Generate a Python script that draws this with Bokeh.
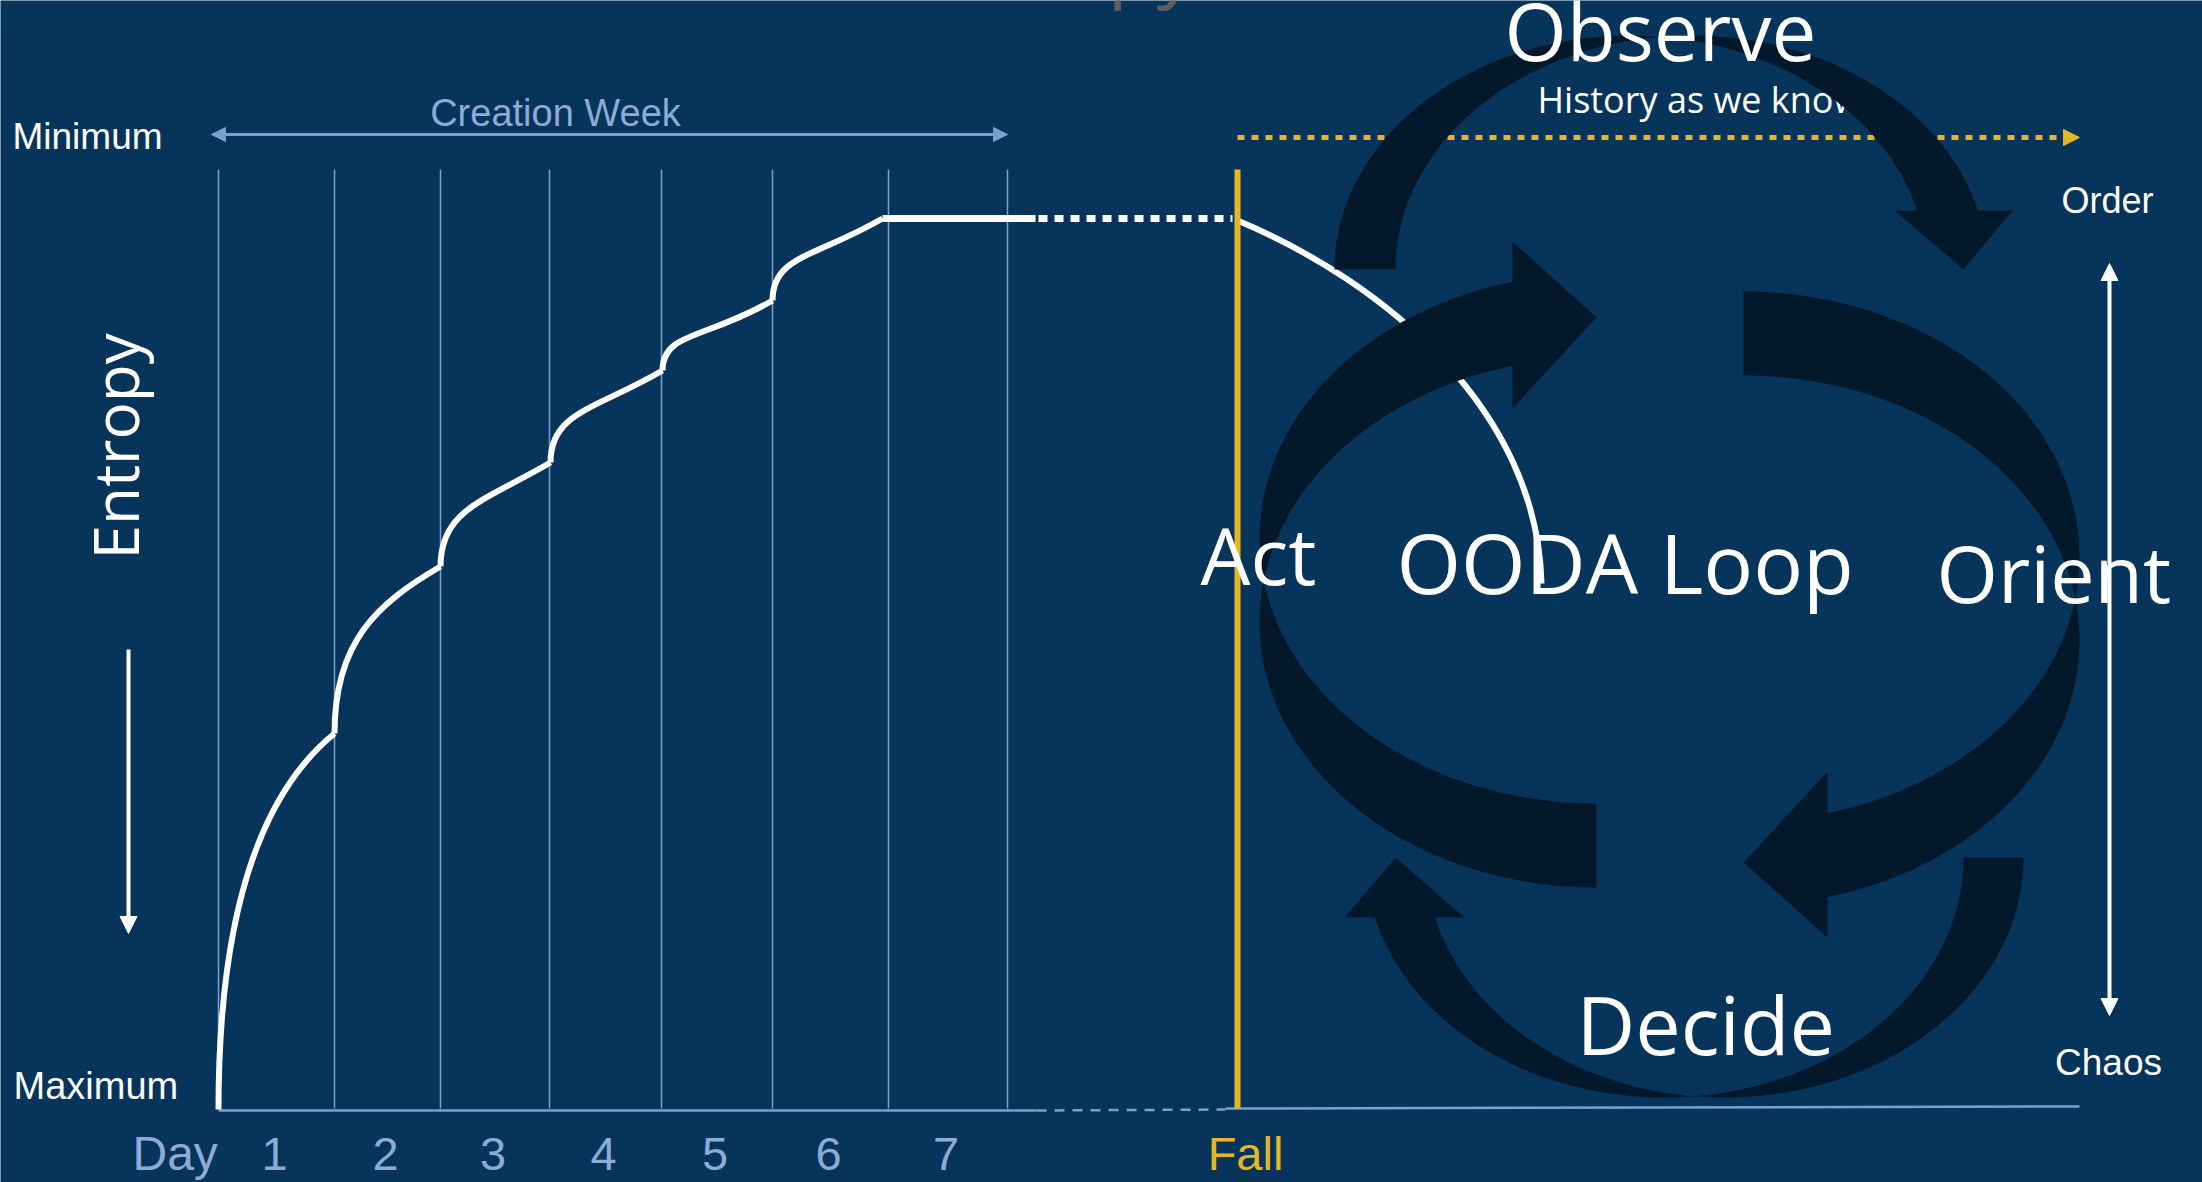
import numpy as np
from bokeh.plotting import figure
from bokeh.models import Range1d, Arrow, NormalHead
from bokeh.embed import file_html
from bokeh.resources import INLINE
from bokeh.core.properties import value

# ---------------- data ----------------
title_text = "Entropy"
axis_title = "Entropy"
entropy_ends = ["Minimum", "Maximum"]
order_ends = ["Order", "Chaos"]
week_label = "Creation Week"
day_word = "Day"
days = ["1", "2", "3", "4", "5", "6", "7"]
fall_label = "Fall"
history_label = "History as we know"
loop_title = "OODA Loop"
ooda_stages = ["Act", "Orient", "Observe", "Decide"]

# day boundaries on the time axis
day_edges = [218, 334, 440, 549, 661, 772, 888, 1007]
# entropy level reached at each day boundary (screen px, 1109 = maximum entropy)
curve_x = [218, 334, 440, 550, 662, 772, 882]
curve_y = [1109, 733, 566, 462, 370, 300, 218]
plateau_end = 1035
fall_x = 1237
# decline after the fall (bezier knots)
decline_x = [1237, 1385, 1537, 1541]
decline_y = [220, 282, 410, 583]

# OODA curved arrows (centre, radii across/along, offset, head geometry)
loop_cx = [1596, 1743, 1660.5, 1694]
loop_cy = [580, 598, 269, 857]
loop_a = [337, 336, 234, 240]
loop_b = [265, 265, 296, 299]
loop_d = [84, 84, 61, 60]
loop_uend = [-84, -84, -59, -60]
loop_hout = [-339, -339, -351.5, -350]
loop_hin = [-172, -173, -233.5, -230]
loop_tip = [-263, -264, -302.5, -299]
loop_rot = ["id", "r180", "cw", "ccw"]

# ---------------- style ----------------
NAVY = "#07345B"
DARK = "#03192B"
LB_LINE = "#7E9ED2"
LB_TEXT = "#8DAAD8"
YEL = "#E6B724"
WHITE = "#FFFFFF"
GRAY = "#5E5E5E"
ARIAL = value("Liberation Sans")
SEGOE = value("Open Sans")

W, H = 2202, 1182
p = figure(width=W, height=H, x_range=Range1d(0, W), y_range=Range1d(H, 0),
           output_backend="svg", toolbar_location=None, min_border=0,
           x_axis_location=None, y_axis_location=None,
           background_fill_color=NAVY, border_fill_color=NAVY, outline_line_color=None)
p.grid.visible = False

# grid of days
p.segment(x0=day_edges, y0=[169] * len(day_edges), x1=day_edges, y1=[1108] * len(day_edges),
          line_color=LB_LINE, line_width=1.5)
# baseline
p.line([day_edges[0], 1036], [1110, 1110], line_color=LB_LINE, line_width=2.5)
p.line([1036, 1225], [1110, 1109], line_color=LB_LINE, line_width=2.5, line_dash="10 8")
p.line([1225, 2079], [1108, 1106], line_color=LB_LINE, line_width=2.5)

# creation week arrow
p.add_layout(Arrow(x_start=211, y_start=134, x_end=day_edges[-1], y_end=134,
                   line_color=LB_LINE, line_width=3,
                   start=NormalHead(size=14, fill_color=LB_LINE, line_color=LB_LINE),
                   end=NormalHead(size=14, fill_color=LB_LINE, line_color=LB_LINE)))

# entropy curve
x0, y0 = np.array(curve_x[:-1], float), np.array(curve_y[:-1], float)
x1, y1 = np.array(curve_x[1:], float), np.array(curve_y[1:], float)
w, h = x1 - x0, y0 - y1
p.bezier(x0=x0, y0=y0, x1=x1, y1=y1,
         cx0=x0, cy0=y0 - 0.55 * h,
         cx1=x1 - 0.6 * w, cy1=y1 + np.maximum(0.15 * h, 0.35 * w),
         line_color=WHITE, line_width=6)
p.line([curve_x[-1], plateau_end], [curve_y[-1]] * 2, line_color=WHITE, line_width=7)
p.line([plateau_end + 3, fall_x - 5], [curve_y[-1]] * 2, line_color=WHITE, line_width=7,
       line_dash="9 7")
p.bezier(x0=[decline_x[0]], y0=[decline_y[0]], cx0=[decline_x[1]], cy0=[decline_y[1]],
         cx1=[decline_x[2]], cy1=[decline_y[2]], x1=[decline_x[3]], y1=[decline_y[3]],
         line_color=WHITE, line_width=6)

# fall line
p.segment(x0=[fall_x], y0=[169], x1=[fall_x], y1=[1108], line_color=YEL, line_width=6)

# history dotted arrow (under the loop)
p.add_layout(Arrow(x_start=fall_x, y_start=137, x_end=2079, y_end=137,
                   line_color=YEL, line_width=5, line_dash="7 7", level="underlay",
                   end=NormalHead(size=16, fill_color=YEL, line_color=YEL)))


# texts (anchor y = visual middle of the capitals in this renderer)
def txt(x, y, t, font, size, color, align="left", angle=0.0):
    p.text(x=[x], y=[y], text=[t], text_font=font, text_font_size=value(size),
           text_color=color, text_align=align, text_baseline="alphabetic", angle=angle)


txt(1537, 99, history_label, SEGOE, "36px", WHITE)


# OODA curved arrows
def loop_arrow(cx, cy, a, b, d, uend, hout, hin, tip, rot):
    s = np.arcsin(d / (2.0 * b))
    tA, tB = np.pi - s, np.pi + s
    tE = 2 * np.pi - np.arccos(uend / a)

    def arc(vc, t0, t1, n=120):
        t = np.linspace(t0, t1, n)
        return a * np.cos(t), vc + b * np.sin(t)

    segs = [arc(d / 2, np.pi / 2, tB), arc(-d / 2, tA, tE),
            (np.array([uend, 0.0, uend]), np.array([hout, tip, hin])),
            arc(d / 2, tE, tB), arc(-d / 2, tA, np.pi / 2)]
    u = np.concatenate([sg[0] for sg in segs])
    v = np.concatenate([sg[1] for sg in segs])
    if rot == "id":
        return cx + u, cy + v
    if rot == "r180":
        return cx - u, cy - v
    if rot == "cw":
        return cx - v, cy + u
    return cx + v, cy - u


for i in range(len(ooda_stages)):
    xs, ys = loop_arrow(loop_cx[i], loop_cy[i], loop_a[i], loop_b[i], loop_d[i],
                        loop_uend[i], loop_hout[i], loop_hin[i], loop_tip[i], loop_rot[i])
    p.patch(xs, ys, fill_color=DARK, line_color=None)

# white arrows
p.add_layout(Arrow(x_start=128, y_start=649, x_end=128, y_end=933, line_color=WHITE, line_width=4,
                   end=NormalHead(size=17, fill_color=WHITE, line_color=WHITE)))
p.add_layout(Arrow(x_start=2109, y_start=263, x_end=2109, y_end=1015, line_color=WHITE, line_width=4,
                   start=NormalHead(size=17, fill_color=WHITE, line_color=WHITE),
                   end=NormalHead(size=17, fill_color=WHITE, line_color=WHITE)))

txt(1196, -40, title_text, SEGOE, "80px", GRAY, "right")
txt(12, 136, entropy_ends[0], ARIAL, "37px", WHITE)
txt(13, 1085, entropy_ends[1], ARIAL, "38px", WHITE)
txt(555, 112, week_label, ARIAL, "38px", LB_TEXT, "center")
txt(132, 1153, day_word, ARIAL, "48px", LB_TEXT)
mids = [(a + b) / 2 - 2 for a, b in zip(day_edges[:-1], day_edges[1:])]
p.text(x=mids, y=[1153] * len(days), text=days, text_font=ARIAL, text_font_size=value("47px"),
       text_color=LB_TEXT, text_align="center", text_baseline="alphabetic")
txt(1245, 1153, fall_label, ARIAL, "47px", YEL, "center")
txt(2107, 200, order_ends[0], ARIAL, "36px", WHITE, "center")
txt(2108, 1062, order_ends[1], ARIAL, "37px", WHITE, "center")
txt(114, 559, axis_title, SEGOE, "62px", WHITE, "left", np.pi / 2)

txt(1504, 29, ooda_stages[2], SEGOE, "80px", WHITE)
txt(1200, 554, ooda_stages[0], SEGOE, "79px", WHITE)
txt(1396, 561, loop_title, SEGOE, "83px", WHITE)
txt(1936, 572, ooda_stages[1], SEGOE, "79px", WHITE)
txt(1576, 1023, ooda_stages[3], SEGOE, "81px", WHITE)

open("out.html", "w").write(file_html(p, INLINE))
